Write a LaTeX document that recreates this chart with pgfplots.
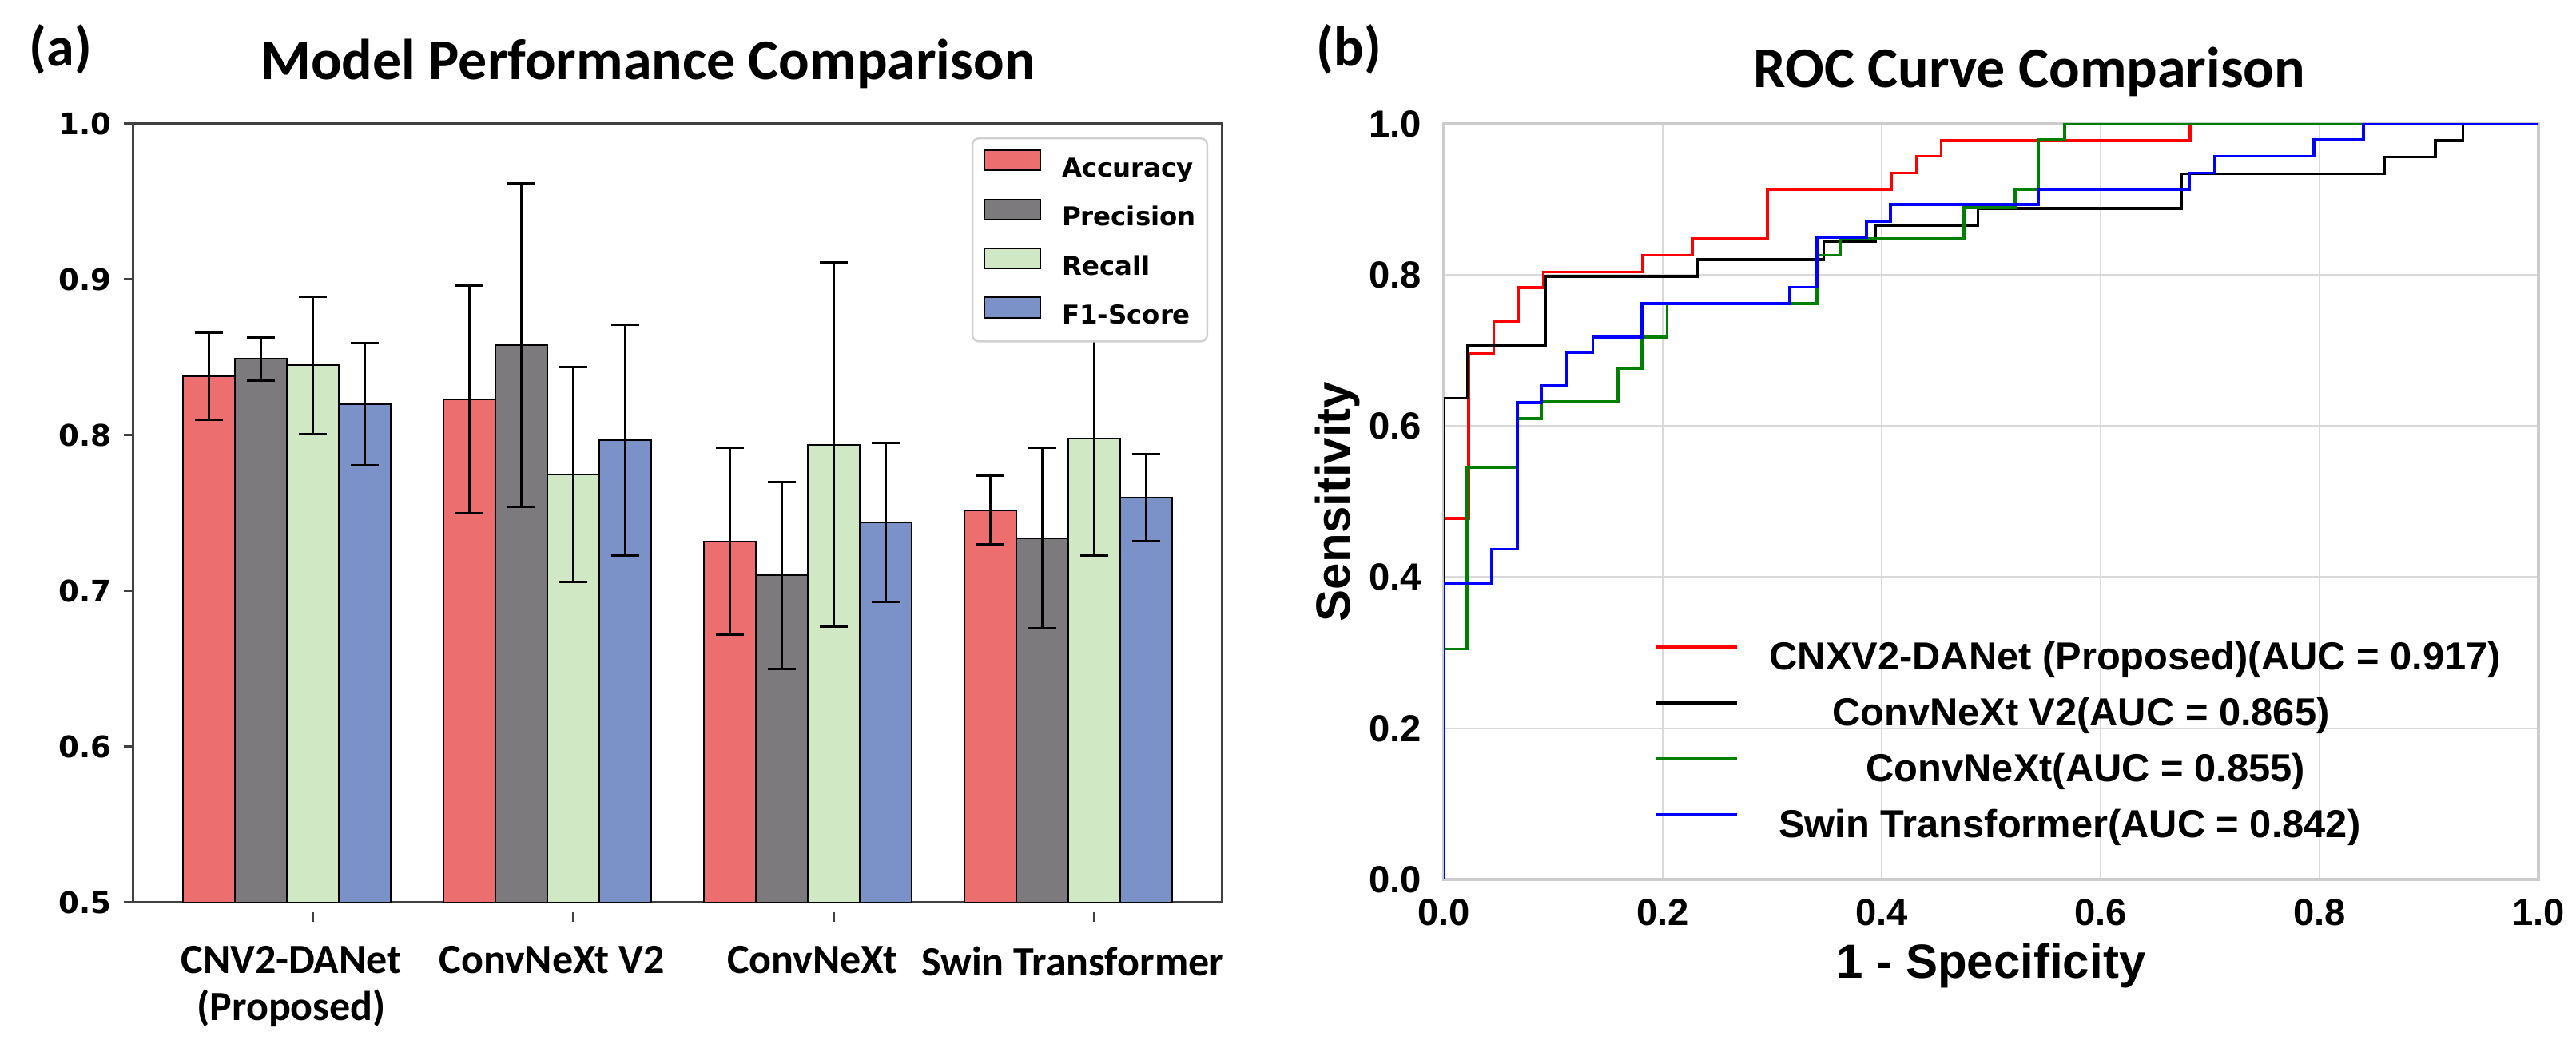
\documentclass[border=0pt]{standalone}
\usepackage{fontspec}
\usepackage{pgfplots}
\pgfplotsset{compat=1.18}
\newfontfamily\carlito{Carlito}
\newfontfamily\dejavu{DejaVu Sans}
\newfontfamily\arial{Liberation Sans}
\definecolor{accred}{RGB}{237,110,110}
\definecolor{precgray}{RGB}{124,122,124}
\definecolor{recgreen}{RGB}{208,232,196}
\definecolor{f1blue}{RGB}{122,146,200}
\definecolor{rocgreen}{RGB}{0,128,0}
\pgfplotsset{
  barleg/.style={legend image code/.code={\draw[##1, sharp corners, line width=0.5pt] (0pt,0pt) rectangle (17.5pt,6.3pt);}},
  errs/.style={/pgfplots/error bars/y dir=both, /pgfplots/error bars/y explicit,
    /pgfplots/error bars/error bar style={black, line width=0.75pt},
    /pgfplots/error bars/error mark options={rotate=90, mark size=4.4pt, line width=0.75pt, black}},
}
\begin{document}
\begin{tikzpicture}
\path[use as bounding box, fill=white] (0pt,0pt) rectangle (806pt,328pt);

% (a) bar chart
\begin{axis}[
  name=left, at={(41.75pt,45.5pt)}, anchor=south west,
  scale only axis, width=340.5pt, height=243.75pt,
  xmin=-0.589, xmax=3.589, ymin=0.5, ymax=1.0,
  ybar, bar width=0.2,
  axis line style={black!75, line width=0.75pt},
  tick pos=left, major tick length=3pt,
  tick style={black!75, line width=0.75pt},
  xtick style={yshift=-3pt}, ytick style={xshift=-3pt},
  /pgf/number format/assume math mode=true,
  ytick={0.5,0.6,0.7,0.8,0.9,1.0},
  yticklabel style={font=\dejavu\bfseries\fontsize{9.3}{10}\selectfont,
    /pgf/number format/fixed, /pgf/number format/fixed zerofill,
    /pgf/number format/precision=1, inner sep=0pt, anchor=east, xshift=-6.75pt},
  xtick={0.1,1.1,2.1,3.1},
  xticklabels={{CNV2-DANet\\(Proposed)},{ConvNeXt V2},{ConvNeXt},{Swin Transformer}},
  xticklabel style={font=\carlito\bfseries\fontsize{13}{14.75}\selectfont,
    align=center, anchor=north, inner sep=0pt, xshift=-6.75pt, yshift=-10.5pt},
  legend style={at={(1,1)}, anchor=north east, xshift=-4.25pt, yshift=-4.25pt,
    draw=black!18, line width=0.6pt, rounded corners=2pt, fill=white,
    font=\dejavu\bfseries\fontsize{8.1}{9}\selectfont,
    inner xsep=3.5pt, inner ysep=3.5pt, row sep=4.85pt, column sep=6.5pt,
    nodes={inner sep=0pt, text height=6pt, text depth=1.9pt}},
  legend cell align=left,
]
\addplot[fill=accred, draw=black, line width=0.5pt, bar shift=-0.3, errs, barleg]
  coordinates {(0,0.838) +- (0,0.028) (1,0.823) +- (0,0.073) (2,0.732) +- (0,0.060) (3,0.752) +- (0,0.022)};
\addplot[fill=precgray, draw=black, line width=0.5pt, bar shift=-0.1, errs, barleg]
  coordinates {(0,0.849) +- (0,0.014) (1,0.858) +- (0,0.104) (2,0.710) +- (0,0.060) (3,0.734) +- (0,0.058)};
\addplot[fill=recgreen, draw=black, line width=0.5pt, bar shift=0.1, errs, barleg]
  coordinates {(0,0.845) +- (0,0.044) (1,0.775) +- (0,0.069) (2,0.794) +- (0,0.117) (3,0.798) +- (0,0.075)};
\addplot[fill=f1blue, draw=black, line width=0.5pt, bar shift=0.3, errs, barleg]
  coordinates {(0,0.820) +- (0,0.039) (1,0.797) +- (0,0.074) (2,0.744) +- (0,0.051) (3,0.760) +- (0,0.028)};
\legend{Accuracy,Precision,Recall,F1-Score}
\end{axis}

% (b) ROC curves
\begin{axis}[
  name=right, at={(451.75pt,52.75pt)}, anchor=south west,
  scale only axis, width=342.5pt, height=236.5pt,
  xmin=0, xmax=1, ymin=0, ymax=1,
  xtick={0,0.2,0.4,0.6,0.8,1.0}, ytick={0,0.2,0.4,0.6,0.8,1.0},
  grid=major, grid style={draw=black!15, line width=0.6pt},
  axis line style={draw=black!20, line width=1pt},
  major tick length=0pt,
  /pgf/number format/assume math mode=true,
  ticklabel style={font=\arial\bfseries\fontsize{11.8}{12}\selectfont, inner sep=0pt,
    /pgf/number format/fixed, /pgf/number format/fixed zerofill,
    /pgf/number format/precision=1},
  yticklabel style={anchor=east, xshift=-6.75pt},
  xticklabel style={anchor=north, yshift=-6pt},
  xlabel={1 - Specificity}, ylabel={Sensitivity},
  label style={font=\arial\bfseries\fontsize{15}{16}\selectfont, inner sep=0pt},
  xlabel style={at={(axis description cs:0.5,-0.1311)}, anchor=base},
  ylabel style={at={(axis description cs:-0.0861,0.5)}, anchor=base},
  legend style={at={(0.1912,0.315)}, anchor=north west, draw=none, fill=none,
    inner sep=0pt, row sep=6.1pt, column sep=9.75pt,
    font=\arial\bfseries\fontsize{12.2}{13}\selectfont,
    nodes={inner sep=0pt, text height=8.8pt, text depth=2.6pt}},
  legend cell align=center,
  legend image code/.code={\draw[#1, line width=1pt] (0pt,4.2pt) -- (25.5pt,4.2pt);},
]
\addplot[red, line width=0.9pt, const plot] coordinates {
  (0,0) (0,0.478) (0.0227,0.696) (0.0455,0.739) (0.0682,0.783) (0.0909,0.804)
  (0.1818,0.826) (0.2273,0.848) (0.2955,0.913) (0.4091,0.935) (0.4318,0.957)
  (0.4545,0.978) (0.6818,1.0) (1,1)};
\addplot[black, line width=0.9pt, const plot] coordinates {
  (0,0) (0,0.637) (0.022,0.706) (0.093,0.798) (0.232,0.820) (0.347,0.844)
  (0.394,0.866) (0.488,0.888) (0.674,0.934) (0.859,0.956) (0.906,0.978)
  (0.931,1.0) (1,1)};
\addplot[rocgreen, line width=0.9pt, const plot] coordinates {
  (0,0) (0,0.305) (0.021,0.545) (0.067,0.610) (0.089,0.632) (0.159,0.676)
  (0.181,0.718) (0.204,0.762) (0.341,0.826) (0.362,0.848) (0.475,0.889)
  (0.522,0.913) (0.543,0.979) (0.567,1.0) (1,1)};
\addplot[blue, line width=0.9pt, const plot] coordinates {
  (0,0) (0,0.392) (0.044,0.437) (0.067,0.631) (0.089,0.653) (0.112,0.697)
  (0.136,0.718) (0.181,0.762) (0.316,0.784) (0.341,0.850) (0.386,0.871)
  (0.408,0.893) (0.543,0.913) (0.681,0.935) (0.704,0.957) (0.795,0.979)
  (0.840,1.0) (1,1)};
\legend{CNXV2-DANet (Proposed)(AUC = 0.917),
  ConvNeXt V2(AUC = 0.865)\hspace*{34pt},
  ConvNeXt(AUC = 0.855)\hspace*{31pt},
  Swin Transformer(AUC = 0.842)\hspace*{41pt}}
\end{axis}

% panel titles and letters
\node[anchor=base, inner sep=0pt, font=\carlito\bfseries\fontsize{18}{20}\selectfont]
  at (202.75pt,303pt) {Model Performance Comparison};
\node[anchor=base, inner sep=0pt, font=\carlito\bfseries\fontsize{18}{20}\selectfont]
  at (635pt,300.5pt) {ROC Curve Comparison};
\node[anchor=base west, inner sep=0pt, font=\carlito\bfseries\fontsize{17.5}{20}\selectfont]
  at (9pt,307.25pt) {(a)};
\node[anchor=base west, inner sep=0pt, font=\carlito\bfseries\fontsize{17.5}{20}\selectfont]
  at (411.75pt,307.25pt) {(b)};
\end{tikzpicture}
\end{document}
